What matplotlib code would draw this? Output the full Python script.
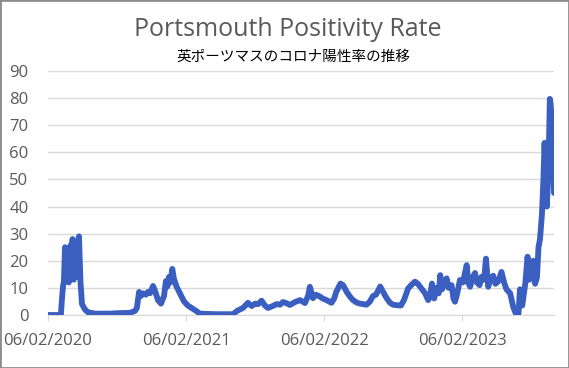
import numpy as np
import pandas as pd
import matplotlib
matplotlib.use("Agg")
import matplotlib.pyplot as plt
import matplotlib.dates as mdates
from matplotlib.patches import Rectangle

# 読み取った値 (日付, 陽性率 %)
dates = [
    "2020-02-06", "2020-03-11", "2020-03-14", "2020-03-17", "2020-03-19", "2020-03-22",
    "2020-03-24", "2020-03-25", "2020-03-27", "2020-03-30", "2020-04-01", "2020-04-03",
    "2020-04-05", "2020-04-07", "2020-04-09", "2020-04-11", "2020-04-14",
    "2020-04-18", "2020-04-22", "2020-04-25", "2020-04-28", "2020-05-02", "2020-05-06",
    "2020-05-14", "2020-05-22", "2020-06-09", "2020-07-19", "2020-08-14", "2020-09-10",
    "2020-09-23", "2020-09-28", "2020-10-04", "2020-10-09", "2020-10-14", "2020-10-22",
    "2020-10-27", "2020-11-02", "2020-11-10", "2020-11-15", "2020-11-23", "2020-12-01",
    "2020-12-09", "2020-12-14", "2020-12-18", "2020-12-22", "2020-12-26", "2020-12-31",
    "2021-01-04", "2021-01-11", "2021-01-20", "2021-01-31", "2021-02-10", "2021-02-21",
    "2021-03-04", "2021-03-14", "2021-04-23", "2021-06-10", "2021-06-20", "2021-07-06",
    "2021-07-19", "2021-07-29", "2021-08-07", "2021-08-15", "2021-08-24", "2021-09-02",
    "2021-09-10", "2021-09-21", "2021-10-03", "2021-10-12", "2021-10-20", "2021-10-30",
    "2021-11-07", "2021-11-21", "2021-12-04", "2021-12-17", "2021-12-25", "2021-12-30",
    "2022-01-07", "2022-01-15", "2022-01-23", "2022-02-03", "2022-02-12", "2022-02-25",
    "2022-03-04", "2022-03-10", "2022-03-21", "2022-03-28", "2022-04-06", "2022-04-15",
    "2022-04-23", "2022-05-04", "2022-05-12", "2022-05-20", "2022-05-29", "2022-06-07",
    "2022-06-15", "2022-06-23", "2022-07-04", "2022-07-12", "2022-07-21", "2022-07-30",
    "2022-08-07", "2022-08-18", "2022-08-28", "2022-09-05", "2022-09-16", "2022-09-24",
    "2022-10-04", "2022-10-12", "2022-10-21", "2022-10-31", "2022-11-08", "2022-11-13",
    "2022-11-18", "2022-11-24", "2022-11-30", "2022-12-06", "2022-12-10", "2022-12-15",
    "2022-12-20", "2022-12-27", "2023-01-01", "2023-01-09", "2023-01-14", "2023-01-18",
    "2023-01-24", "2023-01-31", "2023-02-08", "2023-02-18", "2023-02-22", "2023-02-27",
    "2023-03-06", "2023-03-12", "2023-03-17", "2023-03-24", "2023-03-29", "2023-04-05",
    "2023-04-10", "2023-04-16", "2023-04-21", "2023-04-29", "2023-05-05", "2023-05-13",
    "2023-05-21", "2023-05-28", "2023-06-03", "2023-06-13", "2023-06-21", "2023-06-26",
    "2023-06-30", "2023-07-05", "2023-07-09", "2023-07-15", "2023-07-23", "2023-07-29",
    "2023-08-03", "2023-08-07", "2023-08-13", "2023-08-18", "2023-08-23", "2023-08-27",
    "2023-08-31", "2023-09-05", "2023-09-09", "2023-09-12", "2023-09-14", "2023-09-18",
    "2023-09-22", "2023-09-26", "2023-09-28", "2023-10-01", "2023-10-03", "2023-10-05",
    "2023-10-07",
]
rate = [
    0, 0, 6, 11, 12, 25,
    14, 24, 13, 22, 12, 25,
    14, 26, 15, 28, 13,
    24, 14, 27, 29, 12, 4,
    2, 1, 0.5, 0.5, 0.7, 0.8,
    1.5, 2.5, 8.5, 7, 8, 7.5,
    8.5, 8, 10.7, 9, 5.5, 4.2,
    7, 12.5, 10.5, 14, 12, 17,
    13.5, 10.5, 8, 5, 3.5, 2.5,
    1.5, 0.5, 0.3, 0.3, 1.5, 2.6,
    4.5, 3.3, 4.2, 4, 5.3, 3.5,
    2.6, 3.2, 4, 3.8, 4.8, 4.3,
    3.7, 4.8, 5.5, 4.4, 7, 10.4,
    6.2, 7.5, 7, 6, 5.5, 4.5,
    6, 8.6, 11.6, 11, 8.6, 6.8,
    5.5, 4.5, 4.2, 4, 3.8, 5,
    7, 7.5, 10.5, 8.5, 6.2, 4.5,
    3.8, 3.6, 3.5, 5.5, 9.8, 11,
    12.3, 11.5, 9.8, 8, 5.5, 7,
    11.6, 6.1, 10, 8, 14.7, 9.5,
    12, 13.5, 10, 11, 6, 4.9,
    8, 12.9, 12, 18.4, 12, 10.4,
    14, 15.5, 12, 11, 14.1, 13,
    20.8, 10.4, 13, 14.5, 11.5, 12.5,
    15.9, 12, 9.5, 8, 3, 1.2,
    0, 0.5, 9.5, 3.5, 11.6, 21.5,
    13, 18, 20, 11.5, 14, 25,
    28, 37, 50, 63.5, 55, 40,
    52, 79.7, 78, 72, 56, 60,
    45,
]

title = "Portsmouth Positivity Rate"
subtitle = "英ポーツマスのコロナ陽性率の推移"
yticks = list(range(0, 100, 10))
xticks = ["2020-02-06", "2021-02-06", "2022-02-06", "2023-02-06"]

x = pd.to_datetime(dates)
gray = "#595959"

fig = plt.figure(figsize=(5.69, 3.68), dpi=100)
ax = fig.add_axes([48 / 569, 1 - 315 / 368, 506 / 569, 244 / 368])

ax.plot(x, rate, color="#3a5fc0", lw=4.2, solid_joinstyle="round",
        solid_capstyle="round", zorder=3)

ax.set_ylim(0, 90)
ax.set_xlim(x[0], x[-1])
ax.set_yticks(yticks)
ax.set_xticks(pd.to_datetime(xticks))
ax.xaxis.set_major_formatter(mdates.DateFormatter("%d/%m/%Y"))
ax.grid(axis="y", color="#d9d9d9", lw=1)
for s in ["top", "right", "left"]:
    ax.spines[s].set_visible(False)
ax.spines["bottom"].set_color("#d9d9d9")
ax.tick_params(axis="y", length=0, pad=14, labelsize=12, labelcolor=gray)
ax.tick_params(axis="x", length=4, color="#d9d9d9", pad=9, labelsize=12, labelcolor=gray)
for lab in ax.get_xticklabels() + ax.get_yticklabels():
    lab.set_fontfamily("Open Sans")

fig.text(0.505, 1 - 30 / 368, title, ha="center", va="center", fontsize=18,
         color=gray, family="Open Sans")
fig.text(0.515, 1 - 57 / 368, subtitle, ha="center", va="center", fontsize=10.5,
         color="black", family=["Noto Sans CJK JP", "DejaVu Sans"])

fig.patches.append(Rectangle((0, 0), 1, 1, transform=fig.transFigure, fill=False,
                             edgecolor="#8c8c8c", lw=2))

fig.savefig("out.png", dpi=100)
